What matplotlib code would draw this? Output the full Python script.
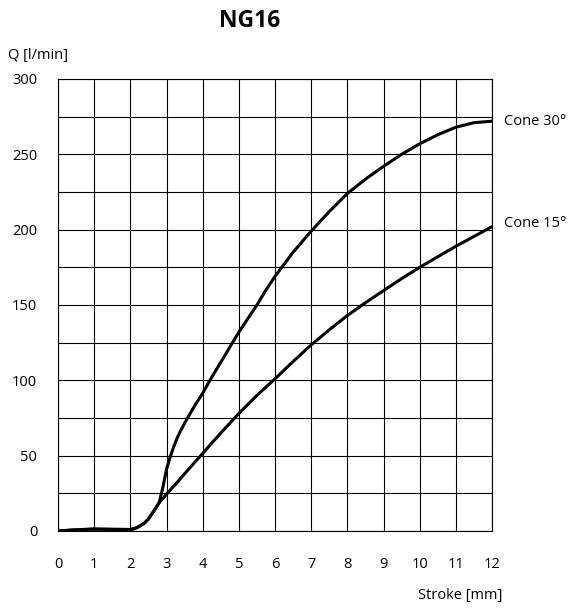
import matplotlib
matplotlib.use("Agg")
import matplotlib.pyplot as plt
from matplotlib.ticker import MultipleLocator

plt.rcParams['font.family'] = ['Open Sans', 'DejaVu Sans']

# (stroke in mm, flow in l/min)
stroke_30 = [0, 0.5, 1, 1.5, 2, 2.1, 2.2, 2.3, 2.4, 2.5, 2.6, 2.7, 2.8, 2.85,
             2.9, 2.95, 3.0, 3.1, 3.2, 3.3, 3.4, 3.5, 3.75, 4, 4.25, 4.5, 4.75,
             5, 5.25, 5.5, 5.75, 6, 6.25, 6.5, 6.75, 7, 7.25, 7.5, 7.75, 8,
             8.5, 9, 9.5, 10, 10.5, 11, 11.5, 12]
flow_30 = [0, 0.8, 1.3, 1.1, 1.0, 1.5, 2.5, 3.8, 5.5, 8, 11.5, 15, 19, 24,
           29, 35, 41, 49, 56, 62, 67, 71.5, 82, 91.5, 102, 112, 122,
           132, 141, 150, 160, 169, 177, 185, 192, 199, 205.5, 212, 218, 224,
           233.5, 242, 250, 257, 263, 268, 271, 272]

stroke_15 = [0, 0.5, 1, 1.5, 2, 2.1, 2.2, 2.3, 2.4, 2.5, 2.6, 2.7, 2.8, 2.9,
             3.0, 3.25, 3.5, 4, 4.5, 5, 5.5, 6, 6.5, 7, 7.5, 8, 8.5, 9, 9.5,
             10, 10.5, 11, 11.5, 12]
flow_15 = [0, 0.8, 1.3, 1.1, 1.0, 1.5, 2.5, 3.8, 5.5, 8, 11.5, 15, 19, 21.5,
           24.5, 31, 38, 51.5, 65, 78, 90, 101, 112.5, 123.5, 133.5, 143,
           151.5, 159.5, 167.5, 175, 182, 189, 195.5, 202]

x_ticks = list(range(0, 13))
y_ticks = [0, 50, 100, 150, 200, 250, 300]

fig = plt.figure(figsize=(5.71, 6.10), dpi=100)
ax = fig.add_axes([58/571, 79/610, 434/571, 452/610])

ax.plot(stroke_30, flow_30, color='k', lw=2.2, solid_capstyle='round',
        solid_joinstyle='round', zorder=3)
ax.plot(stroke_15, flow_15, color='k', lw=2.2, solid_capstyle='round',
        solid_joinstyle='round', zorder=3)

ax.set_xlim(0, 12)
ax.set_ylim(0, 300)
ax.set_xticks(x_ticks)
ax.set_yticks(y_ticks)
ax.yaxis.set_minor_locator(MultipleLocator(25))
ax.grid(which='both', color='k', lw=0.8)
ax.set_axisbelow(True)
ax.tick_params(which='both', length=0, labelsize=10.5)
ax.tick_params(axis='x', pad=18.5)
ax.tick_params(axis='y', pad=15)
for s in ax.spines.values():
    s.set_linewidth(0.8)

ax.annotate('Cone 30°', (12, flow_30[-1]), xytext=(9, 0), textcoords='offset points',
            fontsize=10.5, va='center', annotation_clip=False)
ax.annotate('Cone 15°', (12, flow_15[-1]), xytext=(9, 2), textcoords='offset points',
            fontsize=10.5, va='center', annotation_clip=False)

fig.text(250/571, 1 - 21/610, 'NG16', fontsize=16.5, fontweight='bold',
         ha='center', va='center')
fig.text(8/571, 1 - 55/610, 'Q [l/min]', fontsize=10.5, va='center')
fig.text(502/571, 1 - 596/610, 'Stroke [mm]', fontsize=10.5, ha='right', va='center')

fig.savefig('out.png', dpi=100)
